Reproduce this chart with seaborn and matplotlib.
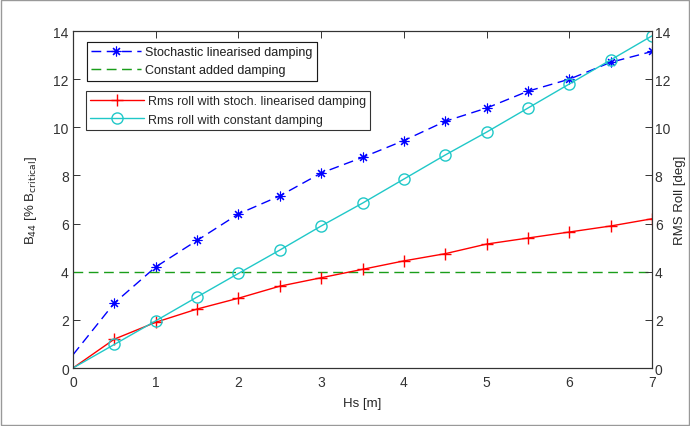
import matplotlib
matplotlib.use("Agg")
import matplotlib.pyplot as plt
import seaborn as sns
import pandas as pd
from matplotlib.lines import Line2D

hs = [0, 0.5, 1, 1.5, 2, 2.5, 3, 3.5, 4, 4.5, 5, 5.5, 6, 6.5, 7]
b44_stoch = [0.55, 2.7, 4.2, 5.3, 6.4, 7.15, 8.1, 8.75, 9.45, 10.25, 10.8, 11.5, 12.0, 12.7, 13.15]
b44_const = [4.0] * len(hs)
rms_stoch = [0, 1.2, 1.9, 2.45, 2.9, 3.4, 3.75, 4.1, 4.45, 4.75, 5.15, 5.4, 5.65, 5.9, 6.2]
rms_const = [0, 0.98, 1.96, 2.95, 3.93, 4.9, 5.9, 6.85, 7.85, 8.85, 9.8, 10.8, 11.8, 12.8, 13.8]

sns.set_style("white")
plt.rcParams['font.family'] = ['Liberation Sans', 'DejaVu Sans']

BLUE = "#0000ff"
GREEN = "#1a9e1a"
RED = "#ff0000"
CYAN = "#20c8c8"
ASTER = (8, 2, 0)
DASH = (0, (7, 4))

fig = plt.figure(figsize=(6.9, 4.27), dpi=100)
ax = fig.add_axes([0.1058, 0.1358, 0.8392, 0.7892])
ax2 = ax.twinx()

df = pd.DataFrame({"hs": hs, "b1": b44_stoch, "b2": b44_const, "r1": rms_stoch, "r2": rms_const})
mk = list(range(1, len(hs)))

sns.lineplot(data=df, x="hs", y="b1", ax=ax, color=BLUE, lw=1, marker=ASTER, markersize=7,
             markeredgecolor=BLUE, markeredgewidth=0.8, markevery=mk, linestyle=DASH)
sns.lineplot(data=df, x="hs", y="b2", ax=ax, color=GREEN, lw=1, linestyle=DASH)
sns.lineplot(data=df, x="hs", y="r1", ax=ax2, color=RED, lw=1, marker="+", markersize=9,
             markeredgecolor=RED, markeredgewidth=1, markevery=mk)
sns.lineplot(data=df, x="hs", y="r2", ax=ax2, color=CYAN, lw=1, marker="o", markersize=8,
             markerfacecolor="none", markeredgecolor=CYAN, markeredgewidth=1, markevery=mk)

for a in (ax, ax2):
    a.set_xlim(0, 7)
    a.set_ylim(0, 14)
    a.set_yticks(range(0, 15, 2))
    a.tick_params(direction="in", length=5, labelsize=10, colors="#333333", width=0.7)
    for s in a.spines.values():
        s.set_linewidth(0.8)
        s.set_color("#333333")
ax.set_xticks(range(0, 8))
ax.tick_params(axis="x", top=True, pad=5)
ax.set_xlabel("Hs [m]", fontsize=9.5, labelpad=6)
ax.set_ylabel("B$_{44}$ [% B$_{\\mathrm{critical}}$]", fontsize=9.5, labelpad=10)
ax2.set_ylabel("RMS Roll [deg]", fontsize=9.5, labelpad=3)
ax.yaxis.set_tick_params(pad=3)
ax2.yaxis.set_tick_params(pad=2)

h1 = [Line2D([], [], color=BLUE, lw=1, linestyle=DASH, marker=ASTER, markersize=7, markeredgewidth=0.8),
      Line2D([], [], color=GREEN, lw=1, linestyle=DASH)]
leg1 = ax.legend(h1, ["Stochastic linearised damping", "Constant added damping"],
                 loc="upper left", bbox_to_anchor=(0.024, 0.968), fontsize=9, frameon=True,
                 fancybox=False, edgecolor="black", borderpad=0.35, handlelength=4.0,
                 labelspacing=0.5, handletextpad=0.3, borderaxespad=0)
leg1.get_frame().set_linewidth(0.8)
h2 = [Line2D([], [], color=RED, lw=1, marker="+", markersize=9),
      Line2D([], [], color=CYAN, lw=1, marker="o", markersize=8, markerfacecolor="none")]
leg2 = ax2.legend(h2, ["Rms roll with stoch. linearised damping", "Rms roll with constant damping"],
                  loc="upper left", bbox_to_anchor=(0.022, 0.822), fontsize=9, frameon=True,
                  fancybox=False, edgecolor="black", borderpad=0.35, handlelength=4.3,
                  labelspacing=0.5, handletextpad=0.3, borderaxespad=0)
leg2.get_frame().set_linewidth(0.8)
ax.add_artist(leg1)

fig.patches.append(plt.Rectangle((0.001, 0.002), 0.997, 0.995, transform=fig.transFigure,
                                 fill=False, edgecolor="#999999", lw=1))
fig.savefig("out.png", dpi=100)
